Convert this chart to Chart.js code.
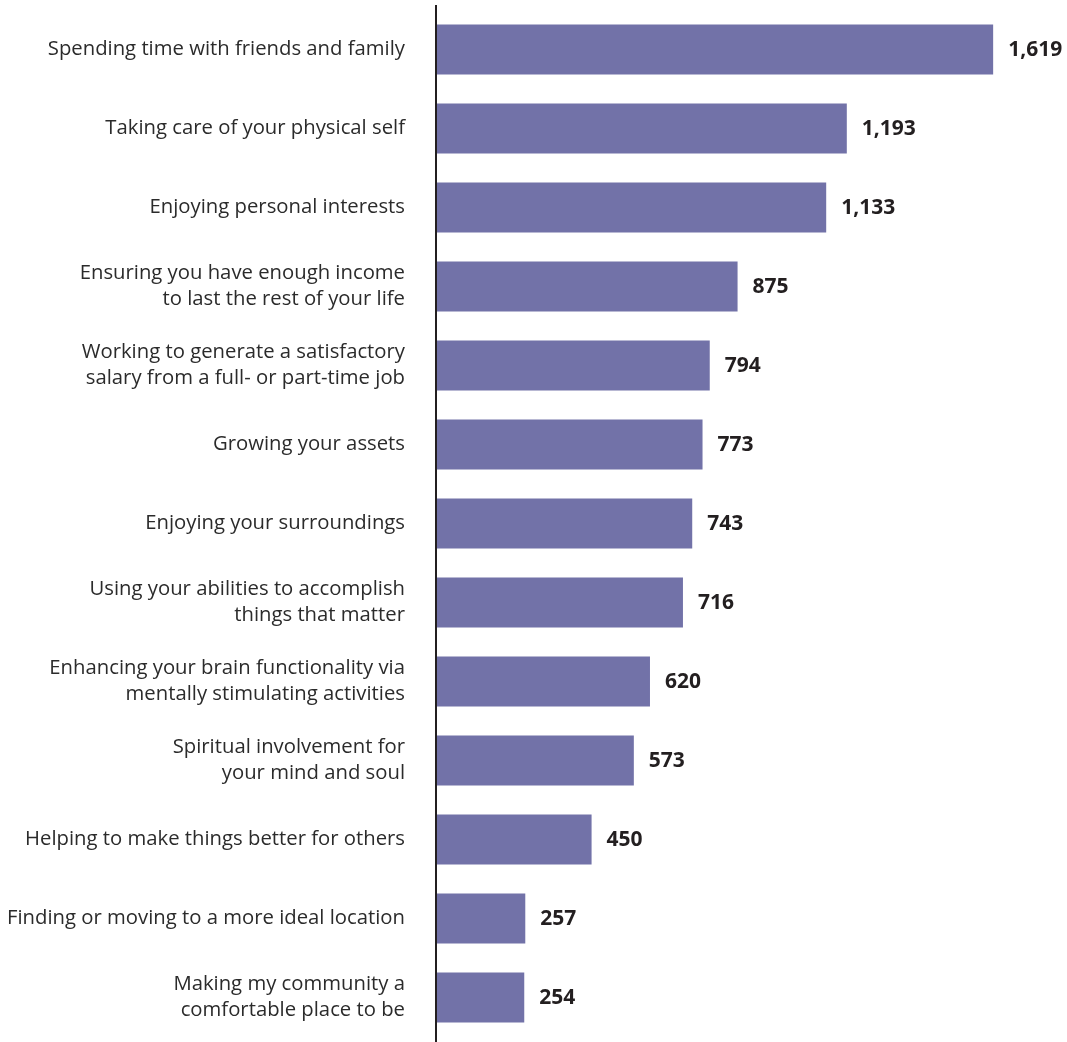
<!DOCTYPE html>
<html>
<head>
<meta charset="utf-8">
<script src="https://cdn.jsdelivr.net/npm/chart.js@4/dist/chart.umd.min.js"></script>
<style>
  html, body { margin: 0; padding: 0; background: #ffffff; }
  #wrap { width: 1067px; height: 1042px; position: relative; }
</style>
</head>
<body>
<div id="wrap"><canvas id="chart"></canvas></div>
<script>
// Activity categories (multi-line labels as arrays)
const categories = [
  ["Spending time with friends and family"],
  ["Taking care of your physical self"],
  ["Enjoying personal interests"],
  ["Ensuring you have enough income", "to last the rest of your life"],
  ["Working to generate a satisfactory", "salary from a full- or part-time job"],
  ["Growing your assets"],
  ["Enjoying your surroundings"],
  ["Using your abilities to accomplish", "things that matter"],
  ["Enhancing your brain functionality via", "mentally stimulating activities"],
  ["Spiritual involvement for", "your mind and soul"],
  ["Helping to make things better for others"],
  ["Finding or moving to a more ideal location"],
  ["Making my community a", "comfortable place to be"]
];

// Number of responses per activity
const responses = [1619, 1193, 1133, 875, 794, 773, 743, 716, 620, 573, 450, 257, 254];

const BAR_COLOR = "#7272a8";
const AXIS_COLOR = "#231f20";
const AXIS_X = 437;

// Vertical axis line that runs past the plot area, top to bottom
const axisLine = {
  id: "axisLine",
  afterDatasetsDraw(chart) {
    const ctx = chart.ctx;
    const x = chart.scales.y.right;
    ctx.save();
    ctx.strokeStyle = AXIS_COLOR;
    ctx.lineWidth = 2;
    ctx.beginPath();
    ctx.moveTo(x - 1, 5);
    ctx.lineTo(x - 1, chart.height);
    ctx.stroke();
    ctx.restore();
  }
};

// Bold value labels to the right of each bar
const valueLabels = {
  id: "valueLabels",
  afterDatasetsDraw(chart) {
    const ctx = chart.ctx;
    const meta = chart.getDatasetMeta(0);
    const data = chart.data.datasets[0].data;
    ctx.save();
    ctx.font = "bold 21px 'Open Sans'";
    ctx.fillStyle = AXIS_COLOR;
    ctx.textAlign = "left";
    ctx.textBaseline = "middle";
    meta.data.forEach((bar, i) => {
      ctx.fillText(data[i].toLocaleString("en-US"), bar.x + 15, bar.y + 1);
    });
    ctx.restore();
  }
};

new Chart(document.getElementById("chart"), {
  type: "bar",
  data: {
    labels: categories,
    datasets: [{
      data: responses,
      backgroundColor: BAR_COLOR,
      borderWidth: 0,
      categoryPercentage: 1,
      barPercentage: 0.634
    }]
  },
  options: {
    indexAxis: "y",
    responsive: true,
    maintainAspectRatio: false,
    animation: false,
    layout: { padding: { top: 10, bottom: 5, left: 0, right: 0 } },
    plugins: {
      legend: { display: false },
      tooltip: { enabled: false }
    },
    scales: {
      x: {
        display: false,
        min: 0,
        max: 1834
      },
      y: {
        afterFit(scale) {
          scale.width = AXIS_X;
          scale.paddingTop = 0;
          scale.paddingBottom = 0;
        },
        grid: { display: false, drawTicks: true, tickLength: 32 },
        border: { display: false },
        ticks: {
          color: "#2b2b2b",
          padding: 0,
          font: { family: "'Open Sans'", size: 20.3, lineHeight: 1.3 }
        }
      }
    }
  },
  plugins: [axisLine, valueLabels]
});
</script>
</body>
</html>
